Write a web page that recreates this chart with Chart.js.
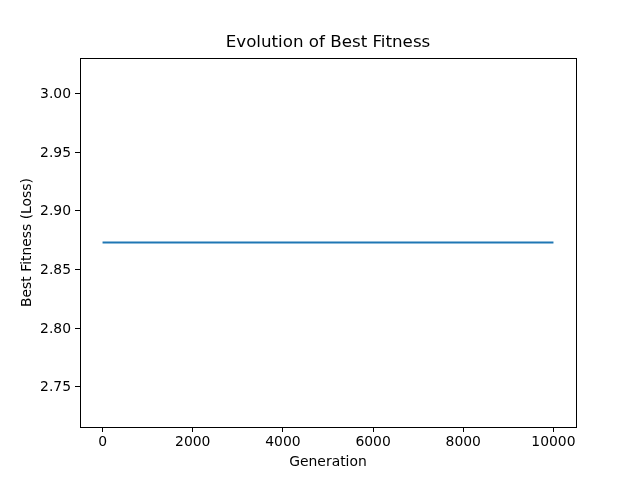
<!DOCTYPE html>
<html>
<head>
<meta charset="utf-8">
<script src="https://cdn.jsdelivr.net/npm/chart.js@4/dist/chart.umd.min.js"></script>
<style>
html,body{margin:0;padding:0;background:#fff;}
#wrap{width:640px;height:480px;position:relative;}
</style>
</head>
<body>
<div id="wrap"><canvas id="c" width="640" height="480"></canvas></div>
<script>
const generations = [0, 10000];
const bestFitness = [2.873, 2.873];
const titleText = "Evolution of Best Fitness";
const xLabel = "Generation";
const yLabel = "Best Fitness (Loss)";
const xTicks = [0, 2000, 4000, 6000, 8000, 10000];
const yTicks = [2.75, 2.80, 2.85, 2.90, 2.95, 3.00];

const FONT = "'DejaVu Sans', sans-serif";

const decor = {
  id: 'decor',
  afterDraw(chart) {
    const ctx = chart.ctx, a = chart.chartArea;
    ctx.save();
    ctx.strokeStyle = '#000';
    ctx.lineWidth = 1;
    ctx.strokeRect(Math.round(a.left) + 0.5, Math.round(a.top) + 0.5, Math.round(a.right - a.left), Math.round(a.bottom - a.top));
    ctx.fillStyle = '#000';
    ctx.textAlign = 'center';
    ctx.textBaseline = 'middle';
    ctx.font = "16.7px " + FONT;
    ctx.fillText(titleText, (a.left + a.right) / 2, 43);
    ctx.font = "13.9px " + FONT;
    ctx.fillText(xLabel, (a.left + a.right) / 2, 462);
    ctx.translate(27, (a.top + a.bottom) / 2);
    ctx.rotate(-Math.PI / 2);
    ctx.fillText(yLabel, 0, 0);
    ctx.restore();
  }
};

new Chart(document.getElementById('c'), {
  type: 'line',
  data: {
    datasets: [{
      data: generations.map((g, i) => ({x: g, y: bestFitness[i]})),
      borderColor: '#1f77b4',
      borderWidth: 2,
      pointRadius: 0,
      tension: 0,
      fill: false
    }]
  },
  options: {
    responsive: false,
    animation: false,
    devicePixelRatio: 1,
    layout: { padding: { top: 58, right: 64, left: 0, bottom: 0 } },
    plugins: { legend: { display: false }, title: { display: false }, tooltip: { enabled: false } },
    scales: {
      x: {
        type: 'linear',
        min: -500, max: 10500,
        afterFit(s) { s.height = 53; },
        afterBuildTicks(s) { s.ticks = xTicks.map(v => ({value: v})); },
        grid: { drawOnChartArea: false, drawTicks: true, tickLength: 5, color: '#000', lineWidth: 1 },
        border: { display: true, color: '#000', width: 1 },
        ticks: { color: '#000', font: { family: FONT, size: 13.9 }, padding: 2, maxRotation: 0, autoSkip: false, callback: v => String(v) }
      },
      y: {
        type: 'linear',
        min: 2.7155, max: 3.0305,
        afterFit(s) { s.width = 80; },
        afterBuildTicks(s) { s.ticks = yTicks.map(v => ({value: v})); },
        grid: { drawOnChartArea: false, drawTicks: true, tickLength: 5, color: '#000', lineWidth: 1 },
        border: { display: true, color: '#000', width: 1 },
        ticks: { color: '#000', font: { family: FONT, size: 13.9 }, padding: 4, labelOffset: 1, autoSkip: false, callback: v => v.toFixed(2) }
      }
    }
  },
  plugins: [decor]
});
</script>
</body>
</html>
